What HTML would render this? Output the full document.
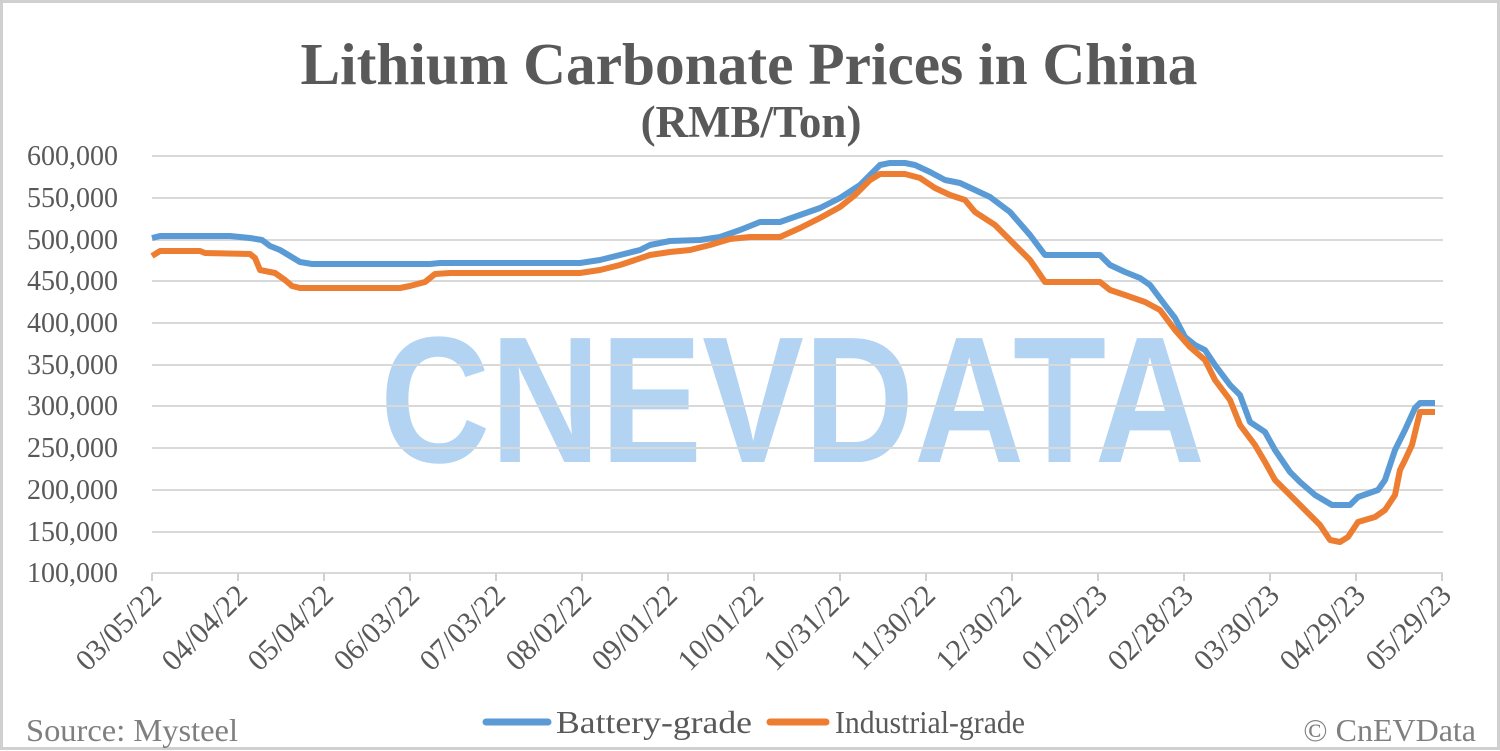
<!DOCTYPE html>
<html><head><meta charset="utf-8"><style>
html,body{margin:0;padding:0;background:#fff}
svg{display:block}
text{font-family:"Liberation Serif",serif}
</style></head><body>
<svg width="1500" height="751" viewBox="0 0 1500 751">
<rect x="1.5" y="1.5" width="1497" height="747" fill="#fff" stroke="#d0d0d0" stroke-width="3"/>
<text x="749" y="84" text-anchor="middle" font-size="59" font-weight="bold" fill="#595959" textLength="897" lengthAdjust="spacingAndGlyphs">Lithium Carbonate Prices in China</text>
<text x="751" y="137" text-anchor="middle" font-size="45" font-weight="bold" fill="#595959">(RMB/Ton)</text>
<text x="380" y="462" style="font-family:'Liberation Sans',sans-serif" font-weight="bold" font-size="180" fill="#b3d3f2" textLength="825" lengthAdjust="spacingAndGlyphs">CNEVDATA</text>
<g stroke="#d9d9d9" stroke-width="2">
<line x1="152" x2="1443" y1="156" y2="156"/><line x1="152" x2="1443" y1="198" y2="198"/>
<line x1="152" x2="1443" y1="240" y2="240"/><line x1="152" x2="1443" y1="281" y2="281"/>
<line x1="152" x2="1443" y1="323" y2="323"/><line x1="152" x2="1443" y1="365" y2="365"/>
<line x1="152" x2="1443" y1="406" y2="406"/><line x1="152" x2="1443" y1="448" y2="448"/>
<line x1="152" x2="1443" y1="490" y2="490"/><line x1="152" x2="1443" y1="532" y2="532"/>
<line x1="152" x2="1443" y1="573" y2="573"/>
</g>
<g stroke="#d0d0d0" stroke-width="2">
<line x1="152" x2="152" y1="573" y2="581"/><line x1="238" x2="238" y1="573" y2="581"/><line x1="324" x2="324" y1="573" y2="581"/><line x1="410" x2="410" y1="573" y2="581"/><line x1="496" x2="496" y1="573" y2="581"/><line x1="582" x2="582" y1="573" y2="581"/><line x1="668" x2="668" y1="573" y2="581"/><line x1="754" x2="754" y1="573" y2="581"/><line x1="840" x2="840" y1="573" y2="581"/><line x1="926" x2="926" y1="573" y2="581"/><line x1="1012" x2="1012" y1="573" y2="581"/><line x1="1098" x2="1098" y1="573" y2="581"/><line x1="1184" x2="1184" y1="573" y2="581"/><line x1="1270" x2="1270" y1="573" y2="581"/><line x1="1356" x2="1356" y1="573" y2="581"/><line x1="1442" x2="1442" y1="573" y2="581"/>
</g>
<g font-size="28" fill="#595959" text-anchor="end">
<text x="118" y="165">600,000</text><text x="118" y="207">550,000</text><text x="118" y="249">500,000</text><text x="118" y="290">450,000</text><text x="118" y="332">400,000</text><text x="118" y="374">350,000</text><text x="118" y="415">300,000</text><text x="118" y="457">250,000</text><text x="118" y="499">200,000</text><text x="118" y="541">150,000</text><text x="118" y="582">100,000</text>
</g>
<g font-size="30" fill="#595959" text-anchor="end">
<text transform="translate(163,597) rotate(-45)">03/05/22</text>
<text transform="translate(249,597) rotate(-45)">04/04/22</text>
<text transform="translate(335,597) rotate(-45)">05/04/22</text>
<text transform="translate(421,597) rotate(-45)">06/03/22</text>
<text transform="translate(507,597) rotate(-45)">07/03/22</text>
<text transform="translate(593,597) rotate(-45)">08/02/22</text>
<text transform="translate(679,597) rotate(-45)">09/01/22</text>
<text transform="translate(765,597) rotate(-45)">10/01/22</text>
<text transform="translate(851,597) rotate(-45)">10/31/22</text>
<text transform="translate(937,597) rotate(-45)">11/30/22</text>
<text transform="translate(1023,597) rotate(-45)">12/30/22</text>
<text transform="translate(1109,597) rotate(-45)">01/29/23</text>
<text transform="translate(1195,597) rotate(-45)">02/28/23</text>
<text transform="translate(1281,597) rotate(-45)">03/30/23</text>
<text transform="translate(1367,597) rotate(-45)">04/29/23</text>
<text transform="translate(1453,597) rotate(-45)">05/29/23</text>
</g>
<polyline fill="none" stroke="#5b9bd5" stroke-width="6" stroke-linejoin="round" points="152,238 160,236 230,236 250,238 262,240 270,246 280,250 290,256 300,262 312,264 430,264 440,263 580,263 600,260 620,255 640,250 650,245 670,241 700,240 720,237 740,230 760,222 780,222 800,215 820,208 840,198 860,185 870,175 880,165 890,163 905,163 915,165 930,172 945,180 960,183 975,190 990,197 1010,212 1030,235 1045,255 1060,255 1100,255 1110,265 1125,272 1140,278 1150,285 1165,305 1175,318 1185,337 1195,345 1205,350 1215,365 1230,385 1240,395 1250,422 1265,432 1275,450 1290,472 1300,482 1315,495 1332,505 1350,505 1358,497 1378,490 1385,480 1395,450 1405,430 1415,408 1420,403 1435,403"/>
<polyline fill="none" stroke="#ed7d31" stroke-width="6" stroke-linejoin="round" points="152,256 160,251 200,251 205,253 250,254 255,258 260,270 275,273 285,280 292,286 300,288 400,288 410,286 425,282 435,274 450,273 580,273 600,270 620,265 650,255 670,252 690,250 710,245 730,239 750,237 780,237 800,228 820,218 840,207 855,195 870,180 880,174 905,174 920,178 935,188 950,195 965,200 975,212 995,225 1010,240 1030,260 1045,282 1055,282 1100,282 1110,290 1125,295 1145,302 1160,310 1175,330 1190,347 1205,360 1215,380 1230,400 1240,425 1255,445 1265,462 1275,480 1290,495 1305,510 1320,525 1330,540 1340,542 1348,537 1358,522 1375,517 1385,510 1395,495 1400,470 1405,460 1412,445 1420,412 1435,412"/>
<line x1="486" x2="548" y1="722" y2="722" stroke="#5b9bd5" stroke-width="7" stroke-linecap="round"/>
<text x="556" y="733" font-size="32" fill="#595959" textLength="196" lengthAdjust="spacingAndGlyphs">Battery-grade</text>
<line x1="770" x2="826" y1="722" y2="722" stroke="#ed7d31" stroke-width="7" stroke-linecap="round"/>
<text x="835" y="733" font-size="32" fill="#595959" textLength="190" lengthAdjust="spacingAndGlyphs">Industrial-grade</text>
<text x="26" y="741" font-size="32" fill="#7f7f7f" textLength="212" lengthAdjust="spacingAndGlyphs">Source: Mysteel</text>
<text x="1476" y="741" font-size="32" fill="#7f7f7f" text-anchor="end">© CnEVData</text>
</svg>
</body></html>
